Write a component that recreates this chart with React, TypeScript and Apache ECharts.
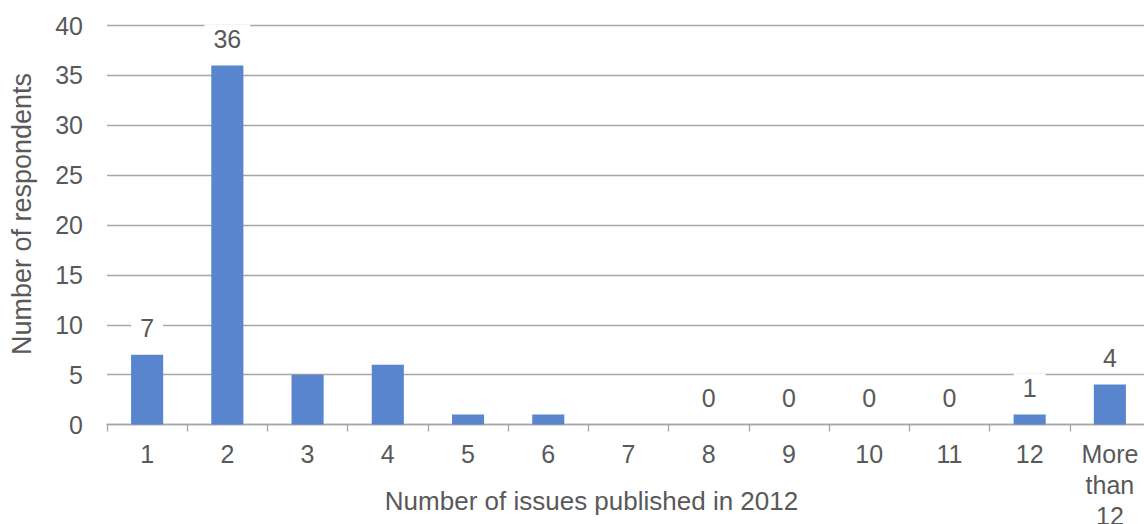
import React, { useEffect, useRef } from "react";
import * as echarts from "echarts";

// Survey: how many issues each respondent's publication put out in 2012
const categories: string[] = ["1", "2", "3", "4", "5", "6", "7", "8", "9", "10", "11", "12", "More than 12"];
const respondents: number[] = [7, 36, 5, 6, 1, 1, 0, 0, 0, 0, 0, 1, 4];
// Which bars carry a value label
const showLabel: boolean[] = [true, true, false, false, false, false, false, true, true, true, true, true, true];
const yTicks = { min: 0, max: 40, interval: 5 };

const FONT = "'Liberation Sans', Arial, Helvetica, sans-serif";
const TEXT = "#595959";
const GRID = "#A6A6A6";
const BAR = "#5985CF";

export default function App() {
  const ref = useRef<HTMLDivElement>(null);

  useEffect(() => {
    if (!ref.current) return;
    const chart = echarts.init(ref.current, undefined, { renderer: "svg" });
    chart.setOption({
      animation: false,
      textStyle: { fontFamily: FONT },
      grid: {
        left: 107,
        right: -6,
        top: 25.5,
        bottom: 99.5,
        containLabel: false,
        outerBoundsMode: "none",
      },
      xAxis: {
        type: "category",
        data: categories,
        name: "Number of issues published in 2012",
        nameLocation: "middle",
        nameGap: 63,
        nameMoveOverlap: false,
        nameTextStyle: { color: TEXT, fontSize: 26, fontFamily: FONT, padding: [0, 74, 0, 0] },
        axisLine: { show: true, lineStyle: { color: GRID, width: 1.3 } },
        axisTick: { show: true, length: 7, lineStyle: { color: GRID, width: 1.3 } },
        axisLabel: {
          interval: 0,
          color: TEXT,
          fontSize: 25,
          fontFamily: FONT,
          lineHeight: 31,
          margin: 14,
          formatter: (v: string) => v.replace(/ /g, "\n"),
        },
        splitLine: { show: false },
      },
      yAxis: {
        type: "value",
        min: yTicks.min,
        max: yTicks.max,
        interval: yTicks.interval,
        name: "Number of respondents",
        nameLocation: "middle",
        nameGap: 72,
        nameMoveOverlap: false,
        nameTextStyle: { color: TEXT, fontSize: 27, fontFamily: FONT, padding: [0, 0, 0, 22] },
        axisLine: { show: false },
        axisTick: { show: false },
        axisLabel: { color: TEXT, fontSize: 25, fontFamily: FONT, margin: 24 },
        splitLine: { show: true, lineStyle: { color: GRID, width: 1.3 } },
      },
      series: [
        {
          type: "bar",
          barWidth: "40%",
          itemStyle: { color: BAR },
          data: respondents.map((v, i) => ({
            value: v,
            label: {
              show: showLabel[i],
              position: "top",
              distance: 12,
              color: TEXT,
              fontSize: 25,
              fontFamily: FONT,
              backgroundColor: "#FFFFFF",
              padding: [2, 9],
            },
          })),
        },
      ],
    });
    return () => chart.dispose();
  }, []);

  return (
    <div
      ref={ref}
      style={{ position: "fixed", left: 0, top: 0, width: 1144, height: 524, background: "#FFFFFF" }}
    />
  );
}
